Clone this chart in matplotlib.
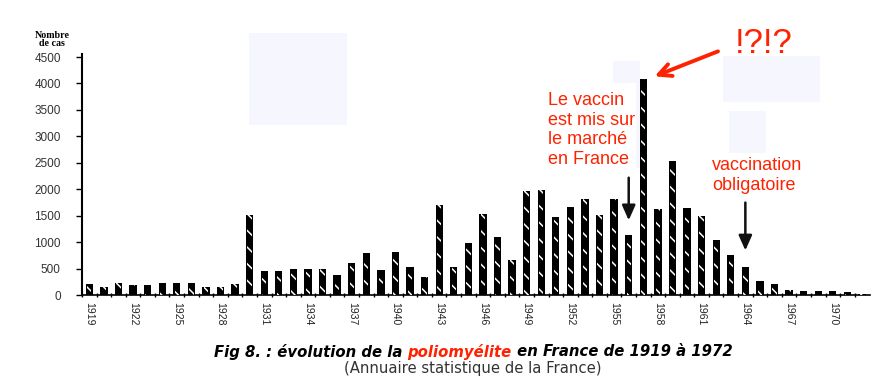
import numpy as np
import matplotlib
matplotlib.use("Agg")
import matplotlib.pyplot as plt
from matplotlib.patches import Rectangle

years = list(range(1919, 1973))
cases = [210, 150, 220, 180, 180, 220, 230, 220, 160, 150,
         210, 1520, 460, 460, 500, 500, 500, 370, 600, 790,
         470, 810, 520, 340, 1700, 520, 990, 1540, 1100, 660,
         1960, 1980, 1480, 1660, 1810, 1510, 1810, 1130, 4080, 1620,
         2540, 1640, 1500, 1040, 750, 520, 270, 200, 100, 75,
         75, 75, 60, 20]
label_years = list(range(1919, 1971, 3))
y_ticks = list(range(0, 4501, 500))

W, H = 896, 385
RED = '#ff2200'
plt.rcParams['hatch.linewidth'] = 1.1

def fx(px):
    return px / W

def fy(py):
    return 1 - py / H

fig = plt.figure(figsize=(W / 100, H / 100), dpi=100)
ax = fig.add_axes([fx(82), fy(295), fx(870) - fx(82), fy(57) - fy(295)])
ax.patch.set_facecolor('none')

# pale boxes left in the scanned picture
for x0, y0, x1, y1 in [(249, 33, 347, 125), (613, 61, 640, 83), (636, 83, 640, 168),
                       (723, 56, 820, 102), (729, 111, 766, 153)]:
    fig.patches.append(Rectangle((fx(x0), fy(y1)), fx(x1) - fx(x0), fy(y0) - fy(y1),
                                 transform=fig.transFigure, facecolor='#f6f6ff',
                                 edgecolor='none', zorder=-5))

ax.bar(years, cases, width=0.5, color='black', zorder=2)
ax.bar(years, cases, width=0.3, facecolor='none', edgecolor='white',
       linewidth=0, hatch='\\\\', zorder=3)

ax.set_xlim(1918.52, 1972.55)
ax.set_ylim(0, 4500)
for s in ['top', 'right']:
    ax.spines[s].set_visible(False)
ax.spines['left'].set_linewidth(1.5)
ax.spines['bottom'].set_linewidth(1.2)
ax.spines['left'].set_bounds(0, 4550)

ax.set_yticks(y_ticks)
ax.set_yticklabels([str(v) for v in y_ticks], fontsize=8.5, color='#333333',
                   family='Liberation Sans')
ax.tick_params(axis='y', length=4.3, width=1, pad=11)

ax.set_xticks(label_years)
ax.set_xticklabels([str(y) for y in label_years], rotation=-90, fontsize=7.5,
                   family=['Liberation Sans Narrow', 'Liberation Sans'], color='#222222')
ax.tick_params(axis='x', length=0, pad=5)
ax.set_xticks([y + 0.5 for y in years[:-1]] + [1918.5], minor=True)
ax.tick_params(axis='x', which='minor', length=3, width=1, direction='inout')

fig.text(fx(52), fy(39.5), 'Nombre\nde cas', ha='center', va='center', fontsize=7.2,
         family='Liberation Serif', weight='bold', linespacing=0.9)

fig.text(fx(548), fy(92), 'Le vaccin\nest mis sur\nle marché\nen France', ha='left', va='top',
         fontsize=13, color=RED, family='Liberation Sans', linespacing=1.2)
fig.text(fx(712), fy(157), 'vaccination\nobligatoire', ha='left', va='top',
         fontsize=13, color=RED, family='Liberation Sans', linespacing=1.2)
fig.text(fx(764), fy(53), '!?!?', ha='center', va='baseline', fontsize=25,
         color=RED, family='Liberation Sans')

ax.annotate('', xy=(1957.6, 4116), xytext=(1962.3, 4626), annotation_clip=False,
            arrowprops=dict(arrowstyle='->, head_length=0.9, head_width=0.45',
                            color=RED, lw=2.8))
ax.annotate('', xy=(1956, 1360), xytext=(1956, 2270),
            arrowprops=dict(arrowstyle='-|>, head_length=0.9, head_width=0.4',
                            color='#111111', lw=1.8))
ax.annotate('', xy=(1964, 790), xytext=(1964, 1800),
            arrowprops=dict(arrowstyle='-|>, head_length=0.9, head_width=0.4',
                            color='#111111', lw=1.8))

# caption with the red word in the middle
fig.canvas.draw()
r = fig.canvas.get_renderer()
parts = [('Fig 8. : évolution de la ', 'black'), ('poliomyélite', RED),
         (' en France de 1919 à 1972', 'black')]
texts = [fig.text(0, fy(352), p, fontsize=10.7, weight='bold', style='italic',
                  family='DejaVu Sans', color=c, va='center') for p, c in parts]
widths = [t.get_window_extent(r).width for t in texts]
x = 473 - sum(widths) / 2
for t, w in zip(texts, widths):
    t.set_x(fx(x))
    x += w
fig.text(fx(473), fy(369), '(Annuaire statistique de la France)', ha='center', va='center',
         fontsize=10.7, family='DejaVu Sans', color='#333333')

fig.savefig('out.png', dpi=100)
